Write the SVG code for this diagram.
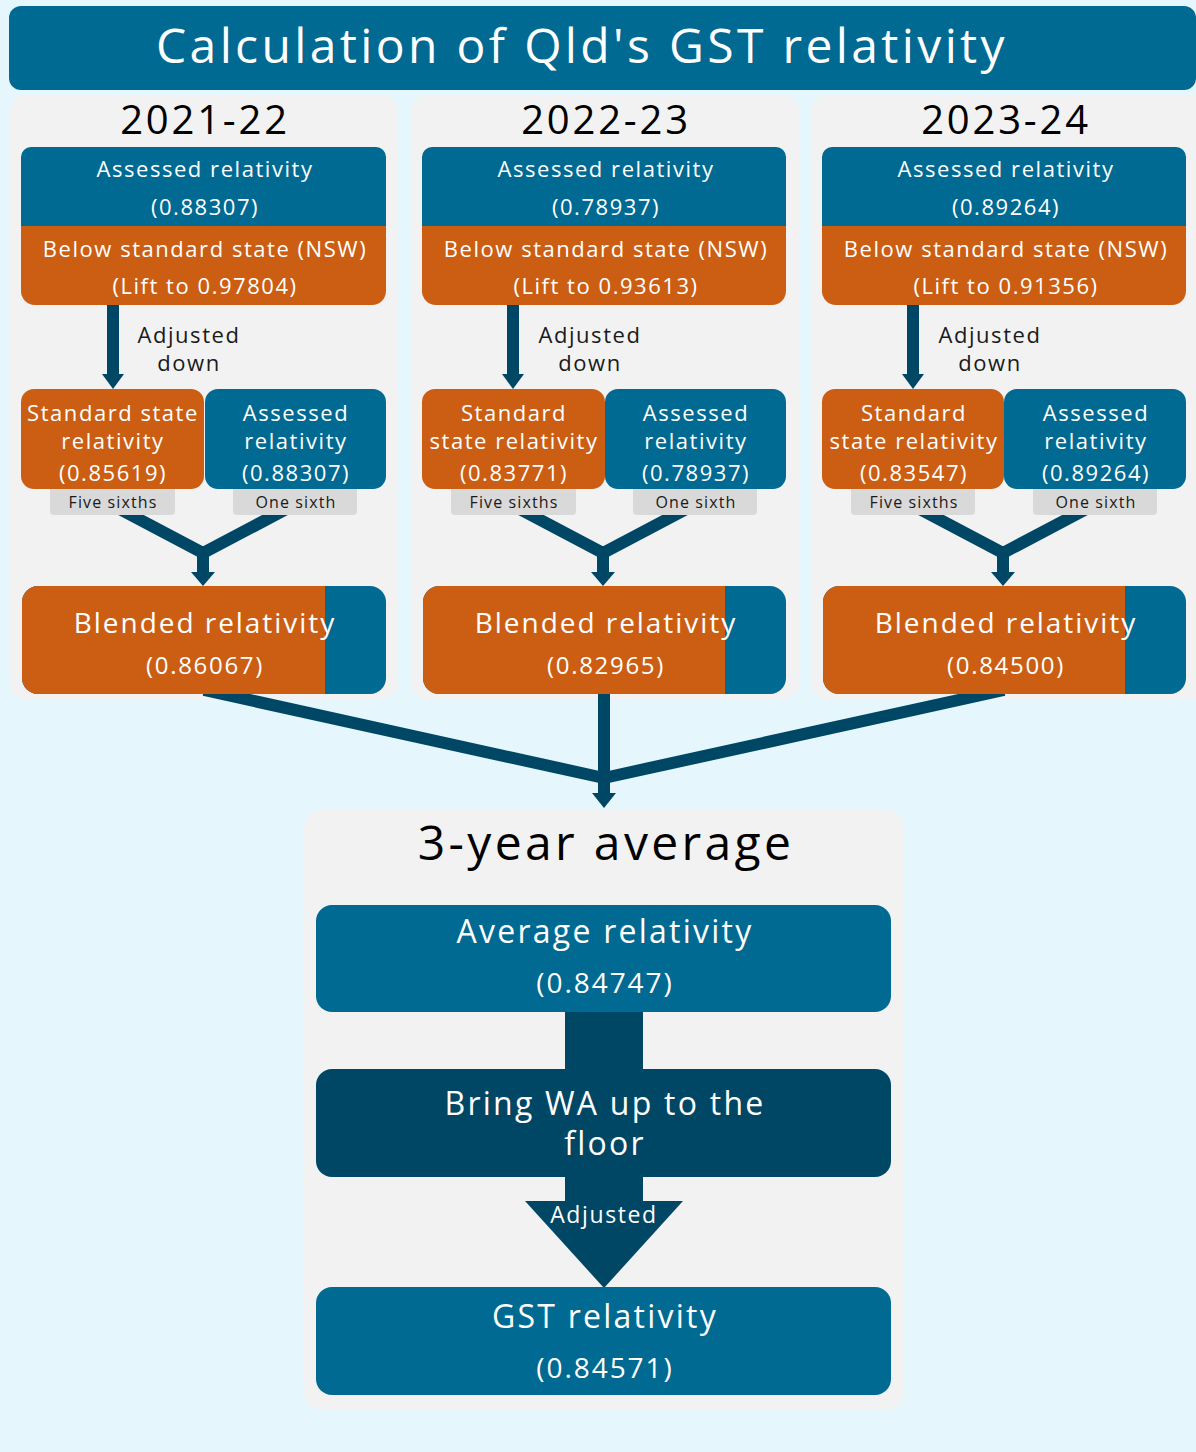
<svg xmlns="http://www.w3.org/2000/svg" width="1196" height="1452" viewBox="0 0 1196 1452">
<defs>
<style>
text{font-family:"Open Sans","Noto Sans","DejaVu Sans",sans-serif;text-anchor:middle;letter-spacing:0.07em}
.w{fill:#ffffff}
.k{fill:#000000}
.d{fill:#1a1a1a}
.blue{fill:#006A92}
.orng{fill:#CB5E13}
.dark{fill:#004765}
.panel{fill:#F2F2F2}
.tag{fill:#D9D9D9}
.ln{stroke:#004765;stroke-width:12;fill:none}
.s22{font-size:22px}
.s16{font-size:16px}
</style>
</defs>
<rect x="0" y="0" width="1196" height="1452" fill="#E5F6FD"/>

<g id="title">
<rect x="9" y="6" width="1187" height="84" rx="12" class="blue"/>
<text x="582" y="63" class="w" font-size="48">Calculation of Qld's GST relativity</text>
</g>

<g id="panels">
<rect id="panel-2021" x="10" y="95" width="388" height="604" rx="16" class="panel"/>
<rect id="panel-2022" x="411" y="95" width="388" height="604" rx="16" class="panel"/>
<rect id="panel-2023" x="811" y="95" width="396" height="604" rx="16" class="panel"/>
<rect id="panel-avg" x="304" y="810" width="600" height="600" rx="18" class="panel"/>
</g>

<g id="connectors">
<g id="conn-2021">
<line x1="113" y1="305" x2="113" y2="376" class="ln" stroke-width="11"/>
<polygon points="102,374 124,374 113,389" class="dark"/>
<polyline points="112,505 203,553 294,505" class="ln" stroke-width="12"/>
<line x1="203" y1="548" x2="203" y2="574" class="ln"/>
<polygon points="191,572 215,572 203,586" class="dark"/>
</g>
<g id="conn-2022" transform="translate(400,0)">
<line x1="113" y1="305" x2="113" y2="376" class="ln" stroke-width="11"/>
<polygon points="102,374 124,374 113,389" class="dark"/>
<polyline points="112,505 203,553 294,505" class="ln" stroke-width="12"/>
<line x1="203" y1="548" x2="203" y2="574" class="ln"/>
<polygon points="191,572 215,572 203,586" class="dark"/>
</g>
<g id="conn-2023" transform="translate(800,0)">
<line x1="113" y1="305" x2="113" y2="376" class="ln" stroke-width="11"/>
<polygon points="102,374 124,374 113,389" class="dark"/>
<polyline points="112,505 203,553 294,505" class="ln" stroke-width="12"/>
<line x1="203" y1="548" x2="203" y2="574" class="ln"/>
<polygon points="191,572 215,572 203,586" class="dark"/>
</g>
<g id="conn-avg">
<line x1="204" y1="690" x2="604" y2="778" class="ln"/>
<line x1="1004" y1="690" x2="604" y2="778" class="ln"/>
<line x1="604" y1="690" x2="604" y2="796" class="ln"/>
<polygon points="592,793 616,793 604,808" class="dark"/>
<rect x="565" y="1010" width="78" height="62" class="dark"/>
<rect x="565" y="1175" width="78" height="28" class="dark"/>
<polygon points="525,1201 683,1201 604,1288" class="dark"/>
<text x="604" y="1223" class="w" font-size="23">Adjusted</text>
</g>
</g>

<g id="year-2021">
<text x="205" y="134" class="k" font-size="40">2021-22</text>
<g id="assessed-2021">
<path d="M21,226 V157 A10,10 0 0 1 31,147 H376 A10,10 0 0 1 386,157 V226 Z" class="blue"/>
<text x="205" y="177" class="w s22">Assessed relativity</text>
<text x="205" y="215" class="w s22">(0.88307)</text>
</g>
<g id="below-2021">
<path d="M21,226 H386 V291 A14,14 0 0 1 372,305 H35 A14,14 0 0 1 21,291 Z" class="orng"/>
<text x="205" y="257" class="w s22">Below standard state (NSW)</text>
<text x="205" y="294" class="w s22">(Lift to 0.97804)</text>
</g>
<text x="189" y="343" class="d s22">Adjusted</text>
<text x="189" y="371" class="d s22">down</text>
<g id="std-2021">
<rect x="21" y="389" width="183" height="100" rx="13" class="orng"/>
<text x="113" y="421" class="w s22">Standard state</text>
<text x="113" y="449" class="w s22">relativity</text>
<text x="113" y="481" class="w s22">(0.85619)</text>
</g>
<g id="ass2-2021">
<rect x="205" y="389" width="181" height="100" rx="13" class="blue"/>
<text x="296" y="421" class="w s22">Assessed</text>
<text x="296" y="449" class="w s22">relativity</text>
<text x="296" y="481" class="w s22">(0.88307)</text>
</g>
<g id="five-2021">
<path d="M50,489 H175 V511 A4,4 0 0 1 171,515 H54 A4,4 0 0 1 50,511 Z" class="tag"/>
<text x="113" y="508" class="d s16">Five sixths</text>
</g>
<g id="one-2021">
<path d="M233,489 H357 V511 A4,4 0 0 1 353,515 H237 A4,4 0 0 1 233,511 Z" class="tag"/>
<text x="296" y="508" class="d s16">One sixth</text>
</g>
<g id="blended-2021">
<rect x="22" y="586" width="364" height="108" rx="16" class="blue"/>
<path d="M38,586 H325 V694 H38 A16,16 0 0 1 22,678 V602 A16,16 0 0 1 38,586 Z" class="orng"/>
<text x="205" y="633" class="w" font-size="28">Blended relativity</text>
<text x="205" y="674" class="w" font-size="24">(0.86067)</text>
</g>
</g>

<g id="year-2022" transform="translate(401,0)">
<text x="205" y="134" class="k" font-size="40">2022-23</text>
<g id="assessed-2022">
<path d="M21,226 V157 A10,10 0 0 1 31,147 H375 A10,10 0 0 1 385,157 V226 Z" class="blue"/>
<text x="205" y="177" class="w s22">Assessed relativity</text>
<text x="205" y="215" class="w s22">(0.78937)</text>
</g>
<g id="below-2022">
<path d="M21,226 H385 V291 A14,14 0 0 1 371,305 H35 A14,14 0 0 1 21,291 Z" class="orng"/>
<text x="205" y="257" class="w s22">Below standard state (NSW)</text>
<text x="205" y="294" class="w s22">(Lift to 0.93613)</text>
</g>
<text x="189" y="343" class="d s22">Adjusted</text>
<text x="189" y="371" class="d s22">down</text>
<g id="std-2022">
<rect x="21" y="389" width="183" height="100" rx="13" class="orng"/>
<text x="113" y="421" class="w s22">Standard</text>
<text x="113" y="449" class="w s22">state relativity</text>
<text x="113" y="481" class="w s22">(0.83771)</text>
</g>
<g id="ass2-2022">
<rect x="204" y="389" width="181" height="100" rx="13" class="blue"/>
<text x="295" y="421" class="w s22">Assessed</text>
<text x="295" y="449" class="w s22">relativity</text>
<text x="295" y="481" class="w s22">(0.78937)</text>
</g>
<g id="five-2022">
<path d="M50,489 H175 V511 A4,4 0 0 1 171,515 H54 A4,4 0 0 1 50,511 Z" class="tag"/>
<text x="113" y="508" class="d s16">Five sixths</text>
</g>
<g id="one-2022">
<path d="M232,489 H356 V511 A4,4 0 0 1 352,515 H236 A4,4 0 0 1 232,511 Z" class="tag"/>
<text x="295" y="508" class="d s16">One sixth</text>
</g>
<g id="blended-2022">
<rect x="22" y="586" width="363" height="108" rx="16" class="blue"/>
<path d="M38,586 H324 V694 H38 A16,16 0 0 1 22,678 V602 A16,16 0 0 1 38,586 Z" class="orng"/>
<text x="205" y="633" class="w" font-size="28">Blended relativity</text>
<text x="205" y="674" class="w" font-size="24">(0.82965)</text>
</g>
</g>

<g id="year-2023" transform="translate(801,0)">
<text x="205" y="134" class="k" font-size="40">2023-24</text>
<g id="assessed-2023">
<path d="M21,226 V157 A10,10 0 0 1 31,147 H375 A10,10 0 0 1 385,157 V226 Z" class="blue"/>
<text x="205" y="177" class="w s22">Assessed relativity</text>
<text x="205" y="215" class="w s22">(0.89264)</text>
</g>
<g id="below-2023">
<path d="M21,226 H385 V291 A14,14 0 0 1 371,305 H35 A14,14 0 0 1 21,291 Z" class="orng"/>
<text x="205" y="257" class="w s22">Below standard state (NSW)</text>
<text x="205" y="294" class="w s22">(Lift to 0.91356)</text>
</g>
<text x="189" y="343" class="d s22">Adjusted</text>
<text x="189" y="371" class="d s22">down</text>
<g id="std-2023">
<rect x="21" y="389" width="182" height="100" rx="13" class="orng"/>
<text x="113" y="421" class="w s22">Standard</text>
<text x="113" y="449" class="w s22">state relativity</text>
<text x="113" y="481" class="w s22">(0.83547)</text>
</g>
<g id="ass2-2023">
<rect x="203" y="389" width="182" height="100" rx="13" class="blue"/>
<text x="295" y="421" class="w s22">Assessed</text>
<text x="295" y="449" class="w s22">relativity</text>
<text x="295" y="481" class="w s22">(0.89264)</text>
</g>
<g id="five-2023">
<path d="M50,489 H174 V511 A4,4 0 0 1 170,515 H54 A4,4 0 0 1 50,511 Z" class="tag"/>
<text x="113" y="508" class="d s16">Five sixths</text>
</g>
<g id="one-2023">
<path d="M232,489 H356 V511 A4,4 0 0 1 352,515 H236 A4,4 0 0 1 232,511 Z" class="tag"/>
<text x="295" y="508" class="d s16">One sixth</text>
</g>
<g id="blended-2023">
<rect x="22" y="586" width="363" height="108" rx="16" class="blue"/>
<path d="M38,586 H324 V694 H38 A16,16 0 0 1 22,678 V602 A16,16 0 0 1 38,586 Z" class="orng"/>
<text x="205" y="633" class="w" font-size="28">Blended relativity</text>
<text x="205" y="674" class="w" font-size="24">(0.84500)</text>
</g>
</g>

<g id="three-year">
<text x="606" y="860" class="k" font-size="48">3-year average</text>
<g id="average">
<rect x="316" y="905" width="575" height="107" rx="16" class="blue"/>
<text x="605" y="943" class="w" font-size="32">Average relativity</text>
<text x="605" y="993" class="w" font-size="28">(0.84747)</text>
</g>
<g id="bring-wa">
<rect x="316" y="1069" width="575" height="108" rx="16" class="dark"/>
<text x="605" y="1115" class="w" font-size="32">Bring WA up to the</text>
<text x="605" y="1155" class="w" font-size="32">floor</text>
</g>
<g id="gst">
<rect x="316" y="1287" width="575" height="108" rx="16" class="blue"/>
<text x="605" y="1328" class="w" font-size="32">GST relativity</text>
<text x="605" y="1378" class="w" font-size="28">(0.84571)</text>
</g>
</g>
</svg>
